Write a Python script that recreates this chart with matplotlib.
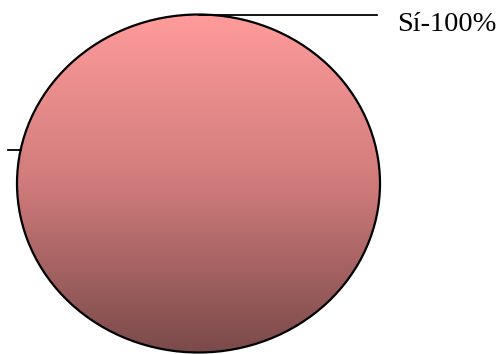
import numpy as np
import matplotlib
matplotlib.use("Agg")
import matplotlib.pyplot as plt
from matplotlib.colors import LinearSegmentedColormap
from matplotlib.patches import Circle

# Survey answers and their shares (percent)
categories = ["Sí", "No"]
values = [100, 0]
labels = [f"{c}-{v}%" for c, v in zip(categories, values)]

fig = plt.figure(figsize=(5.01, 3.54), dpi=100)
fig.patch.set_facecolor("white")

W, H = 501, 354
cx, cy = 198.5, 183.5      # pie centre in pixels
rx, ry = 181.5, 169.0      # horizontal / vertical radius in pixels
ax = fig.add_axes([(cx - rx) / W, (H - cy - ry) / H, 2 * rx / W, 2 * ry / H])

wedges, _ = ax.pie(values, startangle=90, counterclock=False, radius=1,
                   center=(0, 0), frame=False,
                   wedgeprops=dict(facecolor="none", edgecolor="none"))
ax.set_xlim(-1, 1)
ax.set_ylim(-1, 1)
ax.set_aspect("auto")
ax.axis("off")

# vertical shaded fill for the slices
cmap = LinearSegmentedColormap.from_list(
    "shade", [(0.0, "#FF9B9B"), (0.5, "#D07B7B"), (1.0, "#7B4A4A")])
grad = np.linspace(0, 1, 256).reshape(-1, 1)
for w, v in zip(wedges, values):
    if v <= 0:
        w.set_visible(False)
        continue
    im = ax.imshow(grad, cmap=cmap, extent=(-1, 1, -1, 1), origin="upper",
                   aspect="auto", interpolation="bilinear", zorder=0)
    im.set_clip_path(w)

# outline of the pie
ax.add_patch(Circle((0, 0), 1, facecolor="none", edgecolor="black",
                    linewidth=1.6, zorder=2, clip_on=False))
ax.set_xlim(-1, 1)
ax.set_ylim(-1, 1)

# label for the full slice: leader from the top of the pie
ax.plot([0.0, 0.983], [1.0, 1.0], color="black", lw=1.3, clip_on=False,
        zorder=3)
ax.text(1.094, 0.902, labels[0], fontsize=20.5,
        family=["Liberation Serif", "DejaVu Serif"],
        ha="left", va="baseline", clip_on=False)

# leader of the empty slice (its label falls outside the canvas)
yl = 0.198
ax.plot([-1.05, -np.sqrt(1 - yl ** 2)], [yl, yl], color="black", lw=1.3,
        clip_on=False, zorder=3)

fig.savefig("out.png", dpi=100, facecolor="white")
